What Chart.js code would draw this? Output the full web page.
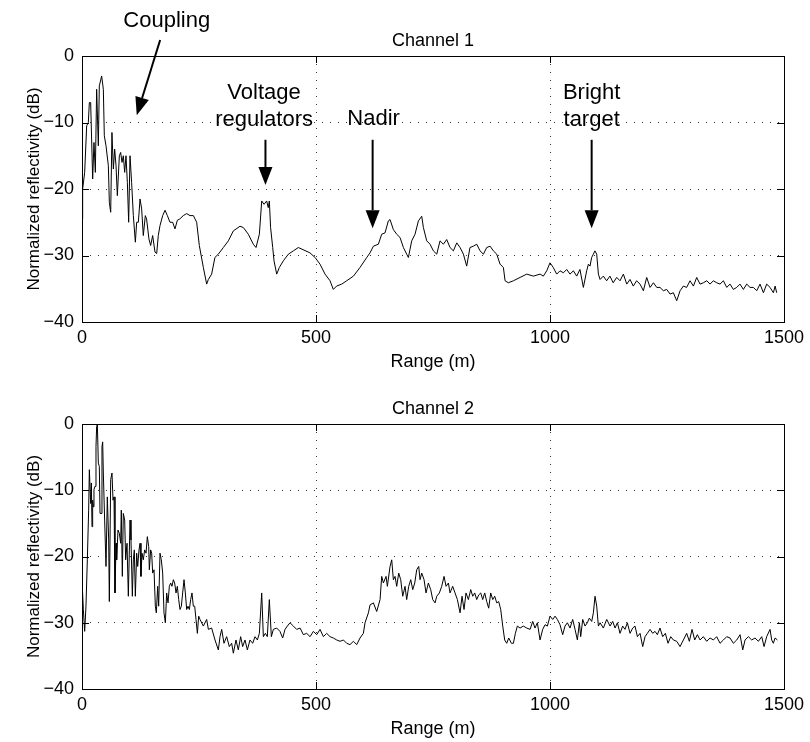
<!DOCTYPE html>
<html>
<head>
<meta charset="utf-8">
<title>Normalized reflectivity</title>
<script src="https://cdn.jsdelivr.net/npm/chart.js@4.4.0/dist/chart.umd.min.js"></script>
<style>
  body { margin: 0; background: #fff; }
  #chan1 { position: absolute; left: 0; top: 0; }
  #chan2 { position: absolute; left: 0; top: 380px; }
</style>
</head>
<body>
<canvas id="chan1" width="810" height="380"></canvas>
<canvas id="chan2" width="810" height="362"></canvas>
<script>
// values (range in m, reflectivity in dB)
var ch1Range = [0, 1.4, 5.7, 10, 13.5, 15.7, 18.5, 22.8, 25.6, 28.5, 31.3, 34.9, 37, 42, 45.6, 47.7, 51.3, 56.3, 58.4, 61.3,
  64, 67, 69.8, 72.7, 75.5, 79.8, 82.6, 85.5, 88.3, 91.2, 94, 96.9, 99.7, 102.6, 106, 109.7, 114, 116.8, 120.4, 124,
  127.5, 131, 135.3, 138, 143, 146.7, 151, 156, 159.6, 163, 166.7, 172.4, 177.4, 182.4, 188, 193.7, 198.7, 203.7, 209, 216.5,
  223.7, 230.8, 238, 245, 250.7, 259.3, 266.4, 270, 277, 284, 291.3, 302, 312.7, 323.4, 337.6, 344.8, 355.4, 366, 371.8, 379,
  384, 389, 394.6, 398, 400.3, 403, 407.5, 410.3, 416, 421.7, 430.2, 441, 451.6, 462.3, 487, 498, 508.6, 519.3, 530, 537,
  544, 555, 565.6, 580, 594, 608.4, 615.5, 622.6, 633.3, 640.4, 647.5, 654.6, 658.2, 665.3, 672.5, 679.6, 686.7, 693.8, 697.4, 704.5,
  711.6, 718.8, 725.9, 729.5, 736.6, 743.7, 750.8, 758, 765, 772.2, 779.3, 786.4, 793.6, 800.7, 807.8, 815, 822, 829, 836.3, 843.4,
  850.5, 857.7, 864.8, 872, 879, 886.2, 893.3, 900.4, 904, 911, 921.8, 936, 950.3, 964.5, 978.8, 985.8, 993, 1000, 1007, 1014.3,
  1021.4, 1028.6, 1035.7, 1042.8, 1050, 1057, 1064, 1071.3, 1078.4, 1082, 1085.5, 1089, 1092.7, 1096, 1099.8, 1103.4, 1107, 1114, 1121, 1128,
  1135, 1142.5, 1149.6, 1156.8, 1164, 1171, 1178, 1185, 1192.4, 1199.5, 1206.6, 1213.8, 1221, 1228, 1235, 1242.3, 1249.4, 1256.5, 1263.6, 1270.7,
  1278, 1285, 1292, 1299.2, 1306.4, 1313.5, 1320.6, 1327.7, 1335, 1342, 1349, 1356.2, 1363.3, 1370.5, 1377.6, 1384.7, 1391.8, 1399, 1406, 1413.2,
  1420.3, 1427.5, 1434.6, 1441.7, 1448.8, 1456, 1463, 1470.2, 1477.3, 1481, 1484.4];
var ch1Refl = [-24.5, -20, -17.5, -10.5, -10, -7, -7, -18.5, -13, -17.5, -5, -13.5, -4.5, -3, -5, -12, -13.5, -16.5, -22, -23.5,
  -11.5, -17, -14, -16.5, -21, -15, -14.5, -16, -15, -17.5, -15, -19, -25, -15, -19, -24, -28, -25, -25, -21.5,
  -23, -27, -24, -24.5, -27.5, -28.5, -27, -29.5, -29.7, -27, -25.5, -24, -23.2, -24, -25, -25, -26, -24.7, -24.5, -24,
  -23.7, -24, -24, -25, -28.5, -31.8, -34.3, -33.6, -32.8, -30.3, -29.8, -28.8, -27.8, -26.3, -25.6, -25.8, -26.8, -28.3, -28.8, -26.8,
  -21.8, -22.3, -21.8, -22.8, -21.8, -25.8, -28.8, -30.8, -32.8, -31.8, -30.8, -29.8, -29.3, -28.8, -29.6, -30.3, -31.3, -32.8, -33.8, -35.1,
  -34.6, -34.3, -33.8, -33.1, -31.8, -30.3, -29.6, -28.6, -28.3, -26.8, -26.6, -24.8, -24.6, -26.1, -26.8, -27.3, -28.8, -29.8, -30.3, -27.8,
  -26.8, -24.8, -24.1, -25.8, -27.8, -28.3, -29.3, -29.8, -27.8, -28.3, -27.6, -28.8, -29.3, -28.1, -28.8, -29.8, -31.6, -28.8, -28.6, -28.3,
  -29.3, -29.8, -28.8, -28.6, -29.3, -29.8, -31.3, -31.8, -33.8, -34.1, -33.8, -33.3, -32.8, -33.1, -32.8, -33.1, -32.3, -31.1, -31.8, -32.8,
  -32.3, -32.6, -32.1, -32.8, -32.3, -33.1, -32.1, -34.8, -32.3, -31.3, -31.6, -30.3, -29.8, -29.3, -29.8, -32.8, -33.6, -33.1, -33.8, -33.1,
  -34.1, -33.3, -33.8, -32.8, -34.3, -33.6, -34.6, -33.8, -34.3, -35.3, -33.3, -34.8, -34.1, -34.8, -34.8, -35.3, -35.1, -35.8, -35.6, -36.8,
  -35.3, -34.6, -34.8, -33.8, -34.6, -33.3, -34.3, -34.1, -33.8, -34.3, -33.8, -34.1, -34.3, -33.8, -34.8, -34.3, -35.1, -34.8, -34.3, -35.1,
  -34.3, -34.8, -34.8, -35.3, -34.3, -35.6, -34.3, -34.8, -35.6, -34.6, -35.6];

var ch2Range = [0, 1, 2.9, 5.7, 8.5, 11.4, 14.2, 15.7, 18.5, 20, 21.4, 22.8, 24.2, 25.6, 27.8, 29.9, 31.3, 32.8, 34.9, 37,
  38.5, 40.6, 42.7, 44.2, 45.6, 48.4, 51.3, 54.1, 57, 58.4, 61.3, 64.1, 66.3, 68.4, 70.5, 72.7, 74.1, 76.9, 79.8, 82.6,
  84, 86.2, 88.3, 91.2, 93.3, 96.2, 99, 102.6, 104.7, 107.6, 109.7, 111.8, 114, 116.8, 119, 121.8, 124, 126, 128.2, 131,
  133.9, 136.8, 139.6, 142.5, 143.9, 146.7, 148.9, 151, 153.9, 156.7, 158.8, 161.7, 163.8, 166.7, 169.5, 172.4, 175.2, 178.1, 180.9, 183.8,
  186.6, 189.5, 192.3, 195.2, 198, 200.9, 203.7, 206.6, 209.4, 212.3, 215.1, 218, 220.8, 223.7, 226.5, 229.4, 232.2, 235, 237.9, 240.8,
  243.6, 246.5, 249.3, 252.2, 259.3, 266.4, 270, 277, 284.2, 291.3, 294.9, 298.5, 303.4, 309.1, 314.8, 319.8, 323.4, 329, 334, 339,
  343.3, 348.3, 353.3, 359, 364.7, 369.7, 374.7, 379, 384, 387.5, 391.8, 396, 400.3, 404.6, 408.9, 416, 423, 428.8, 433.8, 438.8,
  444.5, 451.6, 458.7, 466, 473, 480, 487.3, 494.4, 501.5, 508.6, 515.8, 522.9, 530, 537, 544.3, 551.4, 558.5, 565.6, 572.7, 579.9,
  587, 594.1, 601.2, 604.8, 612, 615.5, 622.6, 629.7, 636.9, 640.4, 644, 649.7, 652.5, 658.2, 661.8, 665.3, 668.9, 672.5, 676.7, 681,
  685.3, 690.3, 693.8, 698.1, 702.4, 706.7, 711, 715.2, 719.5, 722.3, 725.9, 730.9, 735.1, 740.1, 745.1, 749.4, 754.4, 758, 763.6, 768.6,
  773.6, 777.9, 782.9, 786.4, 792.1, 797.1, 802.1, 807.8, 812, 816.3, 820.6, 825.6, 830.6, 834.9, 839.1, 843.4, 847.7, 852, 856.2, 860.5,
  864.8, 869, 873.3, 877.6, 881.9, 886.2, 890.4, 894.7, 899, 903.2, 907.5, 911.8, 917.5, 921.8, 926, 930.3, 936, 943.1, 950.3, 957.4,
  963.1, 968, 973, 978.7, 984.4, 989.4, 994.4, 1000, 1005.8, 1010.8, 1015.7, 1021.4, 1027.1, 1032.1, 1037.1, 1042.8, 1048.5, 1053.5, 1058.5, 1062.8,
  1065.6, 1069.9, 1074.9, 1079.8, 1084.1, 1089.1, 1092.7, 1096.2, 1099.8, 1103.4, 1107, 1114, 1121.2, 1128.3, 1134, 1139, 1144, 1149.6, 1155.3, 1160.3,
  1165.3, 1171, 1176.7, 1181.7, 1186.7, 1192.4, 1198.1, 1203.1, 1208, 1213.8, 1219.5, 1224.4, 1229.4, 1235, 1240.8, 1246.5, 1252.2, 1258, 1263.6, 1270.7,
  1277.9, 1285, 1292.1, 1297.8, 1303.5, 1309.2, 1314.9, 1320.6, 1327.7, 1334.9, 1342, 1349.1, 1356.2, 1363.3, 1370.5, 1377.6, 1384.7, 1391.8, 1399, 1406.1,
  1411.8, 1416.8, 1423.9, 1431, 1438.1, 1445.3, 1452.4, 1457.4, 1463, 1470.2, 1473.7, 1477.3, 1480.9, 1485.9];
var ch2Refl = [-24, -25, -28, -31.3, -27.5, -20.5, -13, -6.9, -12, -8.9, -15.5, -11.5, -12.5, -9.9, -9.4, -3.4, -0.4, 0, -5.9, -6.4,
  -13.5, -13.5, -3.4, -2.7, -7.4, -14.5, -21.5, -11, -17.5, -26.8, -8.4, -7.4, -11.5, -11, -25.5, -18, -20.5, -16, -16.5, -18,
  -13, -23, -13.5, -14.5, -20.5, -18, -26, -14.5, -17.5, -26, -20.5, -19, -26, -19.5, -21.5, -19, -18, -23, -19.5, -20.5,
  -19, -19.5, -17, -18.5, -22, -19, -19.5, -22.5, -22, -27.5, -28.5, -24.5, -27.5, -19.5, -20.5, -22.5, -28.5, -30, -25.5, -27,
  -24.5, -24, -24.5, -23.5, -24, -25.5, -24.5, -26.5, -28, -27.5, -25.5, -23.5, -25.5, -28, -27.5, -28, -26.5, -25.5, -27.5, -27.5,
  -29.5, -31.6, -29, -29.5, -30.5, -29.5, -31, -30.8, -32.6, -34.1, -32.1, -31, -33.1, -32.1, -33.6, -33.1, -34.6, -32.6, -34.1, -32.1,
  -33.6, -32.6, -34.1, -32.6, -33.1, -32.1, -32.6, -31.6, -25.5, -32.1, -31.6, -32.1, -26.5, -32.1, -31, -30.8, -31.3, -32.3, -31, -30.5,
  -30, -30.5, -31, -30.8, -31.8, -31.6, -32.1, -31.3, -31.8, -31, -32.1, -31.6, -32.1, -32.3, -32.6, -32.8, -32.6, -33.1, -33.3, -32.8,
  -33.3, -32.3, -31.6, -30, -28.5, -27.3, -27, -28.3, -26.5, -23, -24, -23, -24.5, -21.5, -20.5, -23.5, -23, -24.5, -22.5, -23.5,
  -26, -24.5, -26.5, -24.5, -23.5, -25, -24, -22, -21.5, -23.5, -22.5, -23.5, -25.5, -24, -25, -26.5, -27, -26, -25.5, -24.5,
  -23, -24.5, -24, -25.5, -24.5, -25.5, -26.5, -28.5, -26, -28, -25.5, -26.5, -25, -26, -25.5, -26.5, -25.8, -25.5, -26.5, -25.5,
  -26.8, -27.8, -25.5, -26.5, -26, -27, -26.8, -28, -30.5, -32.6, -33.1, -32.3, -33.1, -33.1, -31.6, -30.5, -30.8, -30.5, -30.8, -31,
  -29.8, -30.8, -30, -32.6, -31, -30.3, -30.5, -29, -29.5, -29, -29.5, -30.3, -31.8, -30.5, -30, -30.8, -29.5, -31, -32.6, -30,
  -32.1, -29.5, -30.5, -30, -29.3, -29.8, -28.5, -26, -27.5, -30.5, -30, -30.8, -29.5, -30.5, -29.8, -30.8, -30, -31.6, -30.5, -31,
  -30, -31.6, -30.8, -30.5, -32.1, -31.6, -33.6, -32.1, -31.6, -31, -31.6, -31.3, -31.8, -30.8, -32.1, -31.6, -33.1, -32.1, -32.6, -32.8,
  -33.6, -32.6, -31.6, -32.8, -31, -32.6, -31.8, -32.6, -32.1, -32.8, -32.3, -32.6, -32.1, -33.1, -32.6, -32.1, -32.3, -33.1, -32.6, -31.8,
  -34.1, -32.6, -32.1, -32.6, -32.3, -32.8, -32.1, -33.6, -32.1, -31, -32.6, -33.1, -32.3, -32.6];

var rangeTicks = [0, 500, 1000, 1500];
var reflTicks = [-40, -30, -20, -10, 0];

// callouts on channel 1 (range m, dB of first baseline, arrow tail and tip)
var noteLines = [['Coupling'], ['Voltage', 'regulators'], ['Nadir'], ['Bright', 'target']];
var noteX = [181, 389, 623, 1089];
var noteY = [4.4, -6.4, -10.4, -6.4];
var arrowFromX = [167, 392, 621, 1089];
var arrowFromY = [2.4, -12.6, -12.6, -12.6];
var arrowToX = [117, 392, 621, 1089];
var arrowToY = [-8.9, -19.4, -25.9, -25.9];

Chart.defaults.font.family = '"Liberation Sans", Arial, Helvetica, sans-serif';
Chart.defaults.color = '#000';

function minusSign(v)
{
    return v < 0 ? '\u2212' + Math.abs(v) : '' + v;
}

function toPoints(xs, ys)
{
    var pts = [];
    for (var i = 0; i < xs.length; i++) {
        pts.push({x: xs[i], y: ys[i]});
    }
    return pts;
}

// matlab style box with inward ticks
var boxPlugin = {
    id: 'box',
    afterDraw: function(chart)
    {
        var ctx = chart.ctx;
        var a = chart.chartArea;
        var xs = chart.scales.x, ys = chart.scales.y;
        ctx.save();
        ctx.setLineDash([]);
        ctx.strokeStyle = '#000';
        ctx.lineWidth = 1;
        ctx.strokeRect(Math.round(a.left) + 0.5, Math.round(a.top) + 0.5, Math.round(a.right - a.left), Math.round(a.bottom - a.top));
        ctx.beginPath();
        xs.ticks.forEach(function(t) {
            var px = Math.round(xs.getPixelForValue(t.value)) + 0.5;
            ctx.moveTo(px, a.bottom); ctx.lineTo(px, a.bottom - 7);
            ctx.moveTo(px, a.top); ctx.lineTo(px, a.top + 7);
        });
        ys.ticks.forEach(function(t) {
            var py = Math.round(ys.getPixelForValue(t.value)) + 0.5;
            ctx.moveTo(a.left, py); ctx.lineTo(a.left + 7, py);
            ctx.moveTo(a.right, py); ctx.lineTo(a.right - 7, py);
        });
        ctx.stroke();
        ctx.restore();
    }
};

function drawArrow(ctx, x1, y1, x2, y2)
{
    var ang = Math.atan2(y2 - y1, x2 - x1);
    var hl = 18, hw = 7;
    var bx = x2 - hl * Math.cos(ang), by = y2 - hl * Math.sin(ang);
    ctx.beginPath();
    ctx.moveTo(x1, y1);
    ctx.lineTo(bx, by);
    ctx.stroke();
    ctx.beginPath();
    ctx.moveTo(x2, y2);
    ctx.lineTo(bx + hw * Math.sin(ang), by - hw * Math.cos(ang));
    ctx.lineTo(bx - hw * Math.sin(ang), by + hw * Math.cos(ang));
    ctx.closePath();
    ctx.fill();
}

var notesPlugin = {
    id: 'notes',
    afterDraw: function(chart)
    {
        var ctx = chart.ctx;
        var xs = chart.scales.x, ys = chart.scales.y;
        ctx.save();
        ctx.fillStyle = '#000';
        ctx.strokeStyle = '#000';
        ctx.lineWidth = 2;
        ctx.font = '22px "Liberation Sans", Arial, sans-serif';
        ctx.textAlign = 'center';
        ctx.textBaseline = 'alphabetic';
        for (var i = 0; i < noteLines.length; i++) {
            var tx = xs.getPixelForValue(noteX[i]);
            var ty = ys.getPixelForValue(noteY[i]);
            for (var j = 0; j < noteLines[i].length; j++) {
                ctx.fillText(noteLines[i][j], tx, ty + j * 27);
            }
            drawArrow(ctx, xs.getPixelForValue(arrowFromX[i]), ys.getPixelForValue(arrowFromY[i]),
                xs.getPixelForValue(arrowToX[i]), ys.getPixelForValue(arrowToY[i]));
        }
        ctx.restore();
    }
};

function gridColor(c, lo, hi)
{
    if (c.tick && c.tick.value > lo && c.tick.value < hi) return '#333';
    return 'rgba(0,0,0,0)';
}

function buildChart(id, name, xs, ys, titleTop, axisHeight, rangePad, extra)
{
    var plugins = [boxPlugin];
    if (extra) plugins.push(extra);
    return new Chart(document.getElementById(id), {
        type: 'line',
        data: {
            datasets: [{
                label: name,
                data: toPoints(xs, ys),
                borderColor: '#000',
                borderWidth: 1,
                pointRadius: 0,
                tension: 0
            }]
        },
        plugins: plugins,
        options: {
            responsive: false,
            animation: false,
            devicePixelRatio: 1,
            layout: { padding: { left: 0, right: 26, top: 0, bottom: 0 } },
            plugins: {
                legend: { display: false },
                tooltip: { enabled: false },
                title: {
                    display: true,
                    text: name,
                    fullSize: false,
                    font: { size: 18, weight: 'normal' },
                    padding: { top: titleTop, bottom: 4.4 }
                }
            },
            scales: {
                x: {
                    type: 'linear',
                    min: rangeTicks[0],
                    max: rangeTicks[rangeTicks.length - 1],
                    afterBuildTicks: function(s) { s.ticks = rangeTicks.map(function(v) { return {value: v}; }); },
                    afterFit: function(s) { s.height = axisHeight; },
                    ticks: { font: { size: 18 }, padding: 5, maxRotation: 0, callback: function(v) { return '' + v; } },
                    grid: { drawTicks: false, color: function(c) { return gridColor(c, 0, 1500); } },
                    border: { display: false, dash: [1, 7] },
                    title: { display: true, text: 'Range (m)', font: { size: 18 }, padding: { top: 0, bottom: rangePad } }
                },
                y: {
                    min: reflTicks[0],
                    max: reflTicks[reflTicks.length - 1],
                    afterBuildTicks: function(s) { s.ticks = reflTicks.map(function(v) { return {value: v}; }); },
                    afterFit: function(s) { s.width = 82; },
                    ticks: { font: { size: 18 }, padding: 8, callback: function(v) { return minusSign(v); } },
                    grid: { drawTicks: false, color: function(c) { return gridColor(c, -40, 0); } },
                    border: { display: false, dash: [1, 7] },
                    title: { display: true, text: 'Normalized reflectivity (dB)', font: { size: 17 }, padding: { top: 24, bottom: 0 } }
                }
            }
        }
    });
}

buildChart('chan1', 'Channel 1', ch1Range, ch1Refl, 30, 58, 7.4, notesPlugin);
buildChart('chan2', 'Channel 2', ch2Range, ch2Refl, 18, 53, 2.4, null);
</script>
</body>
</html>
